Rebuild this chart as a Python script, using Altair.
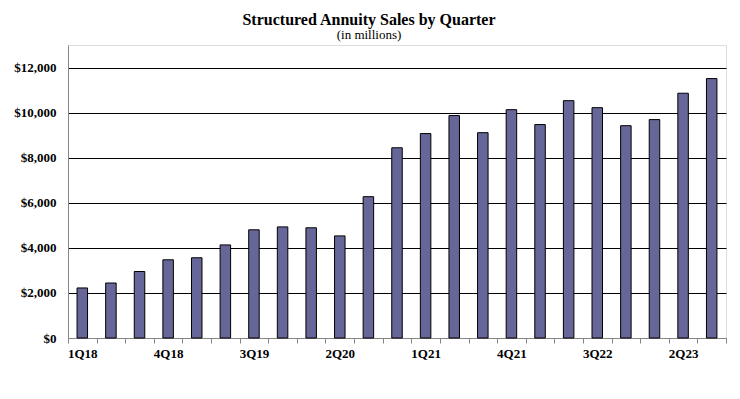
import altair as alt
import pandas as pd

quarters = ["1Q18", "2Q18", "3Q18", "4Q18", "1Q19", "2Q19", "3Q19", "4Q19",
            "1Q20", "2Q20", "3Q20", "4Q20", "1Q21", "2Q21", "3Q21", "4Q21",
            "1Q22", "2Q22", "3Q22", "4Q22", "1Q23", "2Q23", "3Q23"]
sales = [2220, 2440, 2950, 3470, 3560, 4130, 4800, 4930,
         4890, 4530, 6270, 8440, 9070, 9870, 9110, 10130,
         9470, 10530, 10220, 9420, 9690, 10860, 11510]
shown_labels = ["1Q18", "4Q18", "3Q19", "2Q20", "1Q21", "4Q21", "3Q22", "2Q23"]
y_ticks = [0, 2000, 4000, 6000, 8000, 10000, 12000]

df = pd.DataFrame({"quarter": quarters, "sales": sales})

label_list = "[" + ",".join("'" + s + "'" for s in shown_labels) + "]"

font = "Liberation Serif"

chart = alt.Chart(df).mark_bar(
    size=10.5, color="#666699", stroke="black", strokeWidth=1
).encode(
    x=alt.X(
        "quarter:N",
        sort=quarters,
        scale=alt.Scale(type="band", paddingInner=0, paddingOuter=0),
        axis=alt.Axis(
            title=None,
            labelAngle=0,
            tickBand="extent",
            labelExpr="indexof(" + label_list + ", datum.value) >= 0 ? datum.label : ''",
            domainColor="#868686",
            tickColor="#868686",
            tickSize=5,
            labelFont=font,
            labelFontWeight="bold",
            labelFontSize=13,
            labelColor="black",
            labelPadding=4,
            grid=False,
        ),
    ),
    y=alt.Y(
        "sales:Q",
        scale=alt.Scale(domain=[0, 13000], nice=False),
        axis=alt.Axis(
            title=None,
            values=y_ticks,
            format="$,.0f",
            grid=True,
            gridColor={"condition": {"test": "datum.value === 0", "value": "#868686"}, "value": "black"},
            gridWidth=1,
            ticks=False,
            domainColor="#868686",
            labelFont=font,
            labelFontWeight="bold",
            labelFontSize=13,
            labelColor="black",
            labelPadding=12,
        ),
    ),
).properties(
    width=658,
    height=293,
    title=alt.TitleParams(
        "Structured Annuity Sales by Quarter",
        subtitle="(in millions)",
        font=font,
        fontSize=16,
        fontWeight="bold",
        color="black",
        subtitleFont=font,
        subtitleFontSize=13,
        subtitleColor="black",
        subtitlePadding=1,
        anchor="middle",
        dx=-28,
        offset=3,
    ),
    autosize=alt.AutoSizeParams(type="none"),
    padding={"left": 60, "top": 37, "right": 6, "bottom": 45},
).configure_view(stroke=None).configure(background="white")

chart.save("out.html", embed_options={"renderer": "svg", "actions": False})
